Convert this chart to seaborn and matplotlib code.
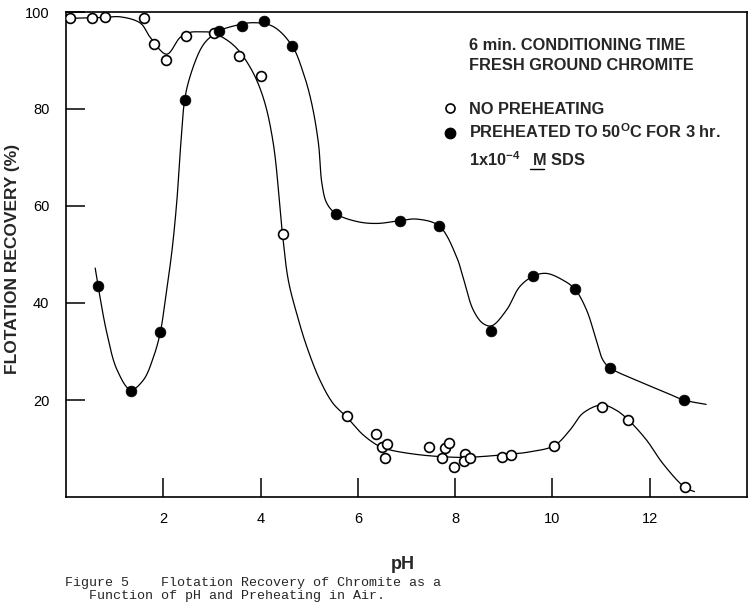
import numpy as np
import matplotlib
matplotlib.use("Agg")
import matplotlib.pyplot as plt
from matplotlib.lines import Line2D
import seaborn as sns

# measured points, no preheating (open circles)
ph_open = [0.09, 0.53, 0.81, 1.61, 1.81, 2.06, 2.47, 3.05, 3.55, 4.01, 4.46,
           5.77, 6.38, 6.49, 6.59, 6.56, 7.46, 7.74, 7.80, 7.88, 7.97, 8.20,
           8.18, 8.30, 8.96, 9.14, 10.04, 11.02, 11.56, 12.72]
rec_open = [98.7, 98.8, 98.9, 98.7, 93.5, 90.0, 95.1, 95.6, 90.9, 86.8, 54.2,
            16.7, 13.0, 10.4, 10.9, 8.0, 10.4, 8.0, 10.2, 11.1, 6.1, 8.9,
            7.5, 8.0, 8.3, 8.7, 10.6, 18.6, 15.9, 2.0]

# measured points, preheated to 50 C for 3 hr (filled circles)
ph_heat = [0.66, 1.33, 1.94, 2.45, 3.15, 3.61, 4.07, 4.65, 5.55, 6.87, 7.67,
           8.73, 9.61, 10.47, 11.18, 12.70]
rec_heat = [43.5, 21.9, 34.0, 81.9, 96.1, 97.1, 98.1, 93.0, 58.4, 57.0, 55.9,
            34.2, 45.6, 42.9, 26.6, 20.0]

# hand drawn fit curves, knots
curve_open_ph = [0.09, 0.53, 0.81, 1.12, 1.53, 1.73, 2.07, 2.35, 2.55, 2.76,
                 3.02, 3.44, 3.78, 4.05, 4.26, 4.45, 4.57, 4.74, 4.95, 5.22,
                 5.49, 5.76, 6.11, 6.45, 6.66, 7.27, 7.96, 8.30, 8.99, 9.53,
                 10.04, 10.36, 10.63, 11.02, 11.31, 11.56, 11.93, 12.27,
                 12.72, 12.92]
curve_open_rec = [98.7, 98.8, 98.9, 99.0, 97.7, 94.8, 91.3, 94.8, 95.8, 95.9,
                  95.7, 93.2, 88.7, 82.5, 73.0, 54.2, 44.7, 37.9, 31.0, 24.1,
                  19.3, 16.6, 12.8, 10.4, 9.7, 8.7, 8.2, 8.2, 8.7, 9.3,
                  10.6, 13.8, 17.3, 19.0, 17.9, 15.9, 11.8, 6.9,
                  2.0, 1.1]
curve_heat_ph = [0.60, 0.66, 0.84, 1.05, 1.33, 1.59, 1.80, 1.94, 2.04, 2.18,
                 2.28, 2.35, 2.44, 2.55, 2.76, 2.90, 3.15, 3.44, 3.85, 4.26,
                 4.65, 4.88, 5.05, 5.19, 5.26, 5.36, 5.55, 5.98, 6.39, 6.88,
                 7.21, 7.67, 8.03, 8.16, 8.37, 8.57, 8.75, 9.06, 9.33, 9.62,
                 9.88, 10.22, 10.46, 10.70, 10.90, 11.04, 11.19, 11.79, 12.34,
                 12.70, 13.16]
curve_heat_rec = [47.2, 43.5, 33.8, 26.2, 22.1, 24.1, 28.9, 34.0, 40.6, 50.9,
                  61.2, 71.5, 81.9, 86.7, 92.2, 94.2, 96.1, 97.1, 97.8, 97.0,
                  93.0, 87.4, 81.2, 72.9, 64.7, 60.6, 58.4, 56.8, 56.4, 57.0,
                  57.3, 55.9, 49.5, 45.4, 38.6, 35.8, 35.3, 38.6, 43.4, 45.6,
                  46.1, 44.7, 42.9, 38.6, 32.4, 28.2, 26.6, 23.8, 21.5,
                  20.0, 19.1]

x_ticks = [2, 4, 6, 8, 10, 12]
y_ticks = [20, 40, 60, 80, 100]


def smooth_curve(xs, ys, n=24, yscale=10.0):
    """Centripetal Catmull-Rom through the knots (y squashed so axes weigh alike)."""
    p = np.column_stack([np.asarray(xs, float), np.asarray(ys, float) / yscale])
    p = np.vstack([2 * p[0] - p[1], p, 2 * p[-1] - p[-2]])
    out = []
    for i in range(1, len(p) - 2):
        p0, p1, p2, p3 = p[i - 1], p[i], p[i + 1], p[i + 2]
        t0 = 0.0
        t1 = t0 + np.linalg.norm(p1 - p0) ** 0.5
        t2 = t1 + np.linalg.norm(p2 - p1) ** 0.5
        t3 = t2 + np.linalg.norm(p3 - p2) ** 0.5
        t = np.linspace(t1, t2, n, endpoint=False)[:, None]
        a1 = (t1 - t) / (t1 - t0) * p0 + (t - t0) / (t1 - t0) * p1
        a2 = (t2 - t) / (t2 - t1) * p1 + (t - t1) / (t2 - t1) * p2
        a3 = (t3 - t) / (t3 - t2) * p2 + (t - t2) / (t3 - t2) * p3
        b1 = (t2 - t) / (t2 - t0) * a1 + (t - t0) / (t2 - t0) * a2
        b2 = (t3 - t) / (t3 - t1) * a2 + (t - t1) / (t3 - t1) * a3
        out.append((t2 - t) / (t2 - t1) * b1 + (t - t1) / (t2 - t1) * b2)
    out.append(p[-2][None, :])
    c = np.vstack(out)
    return c[:, 0], c[:, 1] * yscale


sns.set_style("ticks")
plt.rcParams["font.family"] = ["Liberation Sans", "DejaVu Sans"]
plt.rcParams["mathtext.fontset"] = "custom"
plt.rcParams["mathtext.rm"] = "Liberation Sans"
plt.rcParams["mathtext.bf"] = "Liberation Sans:bold"

fig = plt.figure(figsize=(7.54, 6.12), dpi=100)
ax = fig.add_axes([66 / 754, 1 - 497 / 612, 681 / 754, 485 / 612])

# fit curves
for kx, ky in [(curve_open_ph, curve_open_rec), (curve_heat_ph, curve_heat_rec)]:
    cx, cy = smooth_curve(kx, ky)
    sns.lineplot(x=cx, y=cy, ax=ax, color="black", linewidth=0.9,
                 sort=False, estimator=None, zorder=2)

# data points
sns.scatterplot(x=ph_open, y=rec_open, ax=ax, marker="o", s=50,
                color="white", edgecolor="black", linewidth=1.2, zorder=3)
sns.scatterplot(x=ph_heat, y=rec_heat, ax=ax, marker="o", s=60,
                color="black", edgecolor="black", linewidth=0.5, zorder=3)

ax.set_xlim(0, 14)
ax.set_ylim(0, 100)
ax.set_xticks(x_ticks)
ax.set_yticks(y_ticks)
ax.set_xticklabels([str(v) for v in x_ticks])
ax.set_yticklabels([str(v) for v in y_ticks])
ax.tick_params(axis="both", direction="in", length=14, width=1.1,
               labelsize=10.5, colors="black")
ax.tick_params(axis="x", pad=11)
ax.tick_params(axis="y", pad=12)
for side in ["left", "right", "top", "bottom"]:
    ax.spines[side].set_visible(True)
    ax.spines[side].set_linewidth(1.2)
    ax.spines[side].set_color("black")

ax.set_xlabel("pH", fontsize=13, fontweight="bold")
ax.xaxis.set_label_coords(0.494, -0.140)
ax.xaxis.label.set(va="center", ha="center")
ax.set_ylabel("FLOTATION RECOVERY (%)", fontsize=12.5, fontweight="bold")
ax.yaxis.set_label_coords(-0.079, 0.491)
ax.yaxis.label.set(va="center", ha="center", rotation_mode="anchor")

# legend block
fs = 11.8
txt = dict(transform=ax.transAxes, fontsize=fs, fontweight="bold",
           ha="left", va="center")
ax.text(0.592, 0.931, "6 min. CONDITIONING TIME", **txt)
ax.text(0.592, 0.890, "FRESH GROUND CHROMITE", **txt)

handles = [
    Line2D([], [], linestyle="", marker="o", markersize=6.5,
           markerfacecolor="white", markeredgecolor="black",
           markeredgewidth=1.2),
    Line2D([], [], linestyle="", marker="o", markersize=7.5,
           markerfacecolor="black", markeredgecolor="black"),
]
labels = ["NO PREHEATING", r"PREHEATED TO 50$^{\mathbf{O}}$C FOR 3 hr."]
ax.legend(handles, labels, loc="upper left", bbox_to_anchor=(0.552, 0.815),
          frameon=False, handlelength=1.0, handletextpad=0.66,
          labelspacing=0.36, borderpad=0, borderaxespad=0,
          prop={"size": fs, "weight": "bold"})

sds_prefix = r"1x10$^{\mathbf{-4}}$   "
ax.text(0.592, 0.683, sds_prefix + "M SDS", transform=ax.transAxes,
        fontsize=fs, fontweight="bold", ha="left", va="baseline")

# underline the M (molar)
renderer = fig.canvas.get_renderer()
probe = ax.text(0.592, 0.683, sds_prefix, transform=ax.transAxes,
                fontsize=fs, fontweight="bold", ha="left", va="baseline")
w_pre = probe.get_window_extent(renderer).width
probe.set_text("M")
w_m = probe.get_window_extent(renderer).width
probe.remove()
x0, y0 = ax.transAxes.transform((0.592, 0.683))
fx0, fy0 = fig.transFigure.inverted().transform((x0 + w_pre, y0 - 3))
fx1, _ = fig.transFigure.inverted().transform((x0 + w_pre + w_m, y0 - 3))
fig.add_artist(Line2D([fx0, fx1], [fy0, fy0], color="black", linewidth=1.0,
                      transform=fig.transFigure))

# caption
cap = dict(family=["Liberation Mono", "DejaVu Sans Mono"], fontsize=9.6,
           ha="left", va="center")
fig.text(65 / 754, 1 - 583 / 612,
         "Figure 5    Flotation Recovery of Chromite as a", **cap)
fig.text(65 / 754, 1 - 596 / 612,
         "   Function of pH and Preheating in Air.", **cap)

fig.savefig("out.png", dpi=100)
